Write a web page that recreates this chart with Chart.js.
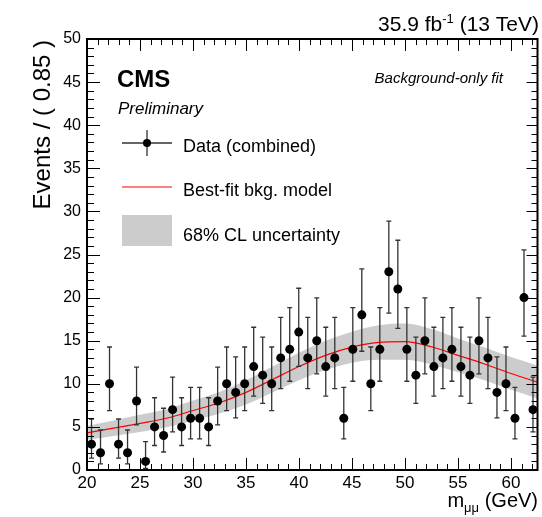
<!DOCTYPE html>
<html>
<head>
<meta charset="utf-8">
<script src="https://cdn.jsdelivr.net/npm/chart.js@4.4.1/dist/chart.umd.min.js"></script>
<style>
html,body{margin:0;padding:0;background:#fff;}
#wrap{width:542px;height:517px;position:relative;}
</style>
</head>
<body>
<div id="wrap"><canvas id="c" width="542" height="517"></canvas></div>
<script>
// ---- data ----
const binCenters = [20.425,21.275,22.125,22.975,23.825,24.675,25.525,26.375,27.225,28.075,
  28.925,29.775,30.625,31.475,32.325,33.175,34.025,34.875,35.725,36.575,
  37.425,38.275,39.125,39.975,40.825,41.675,42.525,43.375,44.225,45.075,
  45.925,46.775,47.625,48.475,49.325,50.175,51.025,51.875,52.725,53.575,
  54.425,55.275,56.125,56.975,57.825,58.675,59.525,60.375,61.225,62.075];
const counts = [3,2,10,3,2,8,1,5,4,7,
  5,6,6,5,8,10,9,10,12,11,
  10,13,14,16,13,15,12,13,6,14,
  18,10,14,23,21,14,11,15,12,13,
  14,12,11,15,13,9,10,6,20,7];
// Poisson (Garwood 68%) interval bounds indexed by count n
const poissonLow  = [0,0.173,0.708,1.367,2.086,2.840,3.620,4.419,5.232,6.057,6.891,7.733,8.581,9.436,10.295,11.160,12.028,12.901,13.776,14.655,15.537,16.421,17.307,18.196];
const poissonHigh = [1.841,3.300,4.638,5.918,7.163,8.382,9.584,10.771,11.946,13.113,14.270,15.420,16.563,17.701,18.833,19.961,21.085,22.205,23.322,24.435,25.546,26.653,27.758,28.861];

const fitX    = [20,22.5,25,27.5,30,32.5,35,37.5,40,42.5,45,47.5,50,52.5,55,57.5,60,62.5];
const fitY    = [4.3,4.85,5.4,6.0,6.9,7.8,9.0,10.5,12.0,13.3,14.25,14.8,14.9,14.3,13.3,12.3,11.2,10.2];
const bandLow = [3.5,3.95,4.4,4.95,5.75,6.55,7.6,9.0,10.4,11.6,12.45,12.8,12.8,12.25,11.35,10.4,9.3,8.3];
const bandHigh= [5.1,5.75,6.4,7.05,8.05,9.05,10.4,12.0,13.6,15.0,16.05,16.8,17.0,16.35,15.25,14.2,13.1,12.1];

const xTicks = [20,25,30,35,40,45,50,55,60];
const yTicks = [0,5,10,15,20,25,30,35,40,45,50];
const xMin = 20, xMax = 62.5, yMin = 0, yMax = 50;

const FONT = '"Liberation Sans", Arial, Helvetica, sans-serif';

const pts = (xs, ys) => xs.map((x, i) => ({x: x, y: ys[i]}));

// ---- plugins ----
const errorBars = {
  id: 'errorBars',
  beforeDatasetDraw(chart, args) {
    if (chart.data.datasets[args.index].label !== 'data') return;
    const {ctx, scales: {x, y}} = chart;
    ctx.save();
    ctx.strokeStyle = '#333';
    ctx.lineWidth = 1.3;
    binCenters.forEach((bc, i) => {
      const n = counts[i];
      const px = x.getPixelForValue(bc);
      const yl = y.getPixelForValue(poissonLow[n]);
      const yh = y.getPixelForValue(poissonHigh[n]);
      ctx.beginPath();
      ctx.moveTo(px, yl); ctx.lineTo(px, yh);
      ctx.moveTo(px - 2.5, yl); ctx.lineTo(px + 2.5, yl);
      ctx.moveTo(px - 2.5, yh); ctx.lineTo(px + 2.5, yh);
      ctx.stroke();
    });
    ctx.restore();
  }
};

const frameAndText = {
  id: 'frameAndText',
  afterDraw(chart) {
    const {ctx, chartArea: a, scales: {x, y}} = chart;
    ctx.save();
    // ticks (inward) on all four sides
    ctx.strokeStyle = '#000';
    ctx.lineWidth = 1;
    ctx.beginPath();
    for (let v = xMin; v <= xMax + 1e-9; v += 1) {
      const px = Math.round(x.getPixelForValue(v)) + 0.5;
      const major = Math.abs(v % 5) < 1e-9;
      const lb = major ? 12 : 6;
      const lt = major ? 12 : 6;
      ctx.moveTo(px, a.bottom); ctx.lineTo(px, a.bottom - lb);
      ctx.moveTo(px, a.top); ctx.lineTo(px, a.top + lt);
    }
    for (let v = yMin; v <= yMax + 1e-9; v += 1) {
      const py = Math.round(y.getPixelForValue(v)) + 0.5;
      const major = Math.abs(v % 5) < 1e-9;
      const ll = major ? 13 : 7;
      const lr = major ? 11 : 6;
      ctx.moveTo(a.left, py); ctx.lineTo(a.left + ll, py);
      ctx.moveTo(a.right, py); ctx.lineTo(a.right - lr, py);
    }
    ctx.stroke();
    // frame
    ctx.lineWidth = 2;
    ctx.strokeRect(a.left, a.top, a.right - a.left, a.bottom - a.top);

    ctx.fillStyle = '#000';
    // y axis title
    ctx.save();
    ctx.translate(43, a.top + 1);
    ctx.rotate(-Math.PI / 2);
    ctx.font = '24px ' + FONT;
    ctx.textAlign = 'right';
    ctx.textBaseline = 'middle';
    ctx.fillText('Events / ( 0.85 )', 0, 0);
    ctx.restore();

    // x axis title: m_{μμ} (GeV)
    ctx.textBaseline = 'alphabetic';
    ctx.font = '20px ' + FONT;
    ctx.textAlign = 'right';
    const gev = ' (GeV)';
    ctx.fillText(gev, 538, 507);
    let xr = 538 - ctx.measureText(gev).width;
    ctx.font = '13px ' + FONT;
    ctx.fillText('μμ', xr, 512);
    xr -= ctx.measureText('μμ').width;
    ctx.font = '20px ' + FONT;
    ctx.fillText('m', xr, 507);

    // lumi label
    ctx.font = '21px ' + FONT;
    const tail = ' (13 TeV)';
    ctx.fillText(tail, 539, 31);
    let tr = 539 - ctx.measureText(tail).width;
    ctx.font = '13px ' + FONT;
    ctx.fillText('-1', tr, 23);
    tr -= ctx.measureText('-1').width;
    ctx.font = '21px ' + FONT;
    ctx.fillText('35.9 fb', tr, 31);

    // CMS labels
    ctx.textAlign = 'left';
    ctx.font = 'bold 24px ' + FONT;
    ctx.fillText('CMS', 117, 87);
    ctx.font = 'italic 17px ' + FONT;
    ctx.fillText('Preliminary', 118, 114);
    ctx.textAlign = 'right';
    ctx.font = 'italic 15px ' + FONT;
    ctx.fillText('Background-only fit', 503, 83);

    // legend
    ctx.textAlign = 'left';
    // data entry
    ctx.strokeStyle = '#333';
    ctx.lineWidth = 1.3;
    ctx.beginPath();
    ctx.moveTo(122, 143); ctx.lineTo(172, 143);
    ctx.moveTo(147, 130); ctx.lineTo(147, 156);
    ctx.stroke();
    ctx.beginPath();
    ctx.arc(147, 143, 4, 0, Math.PI * 2);
    ctx.fillStyle = '#000';
    ctx.fill();
    // fit entry
    ctx.strokeStyle = '#ff0000';
    ctx.lineWidth = 1;
    ctx.beginPath();
    ctx.moveTo(122, 187); ctx.lineTo(172, 187);
    ctx.stroke();
    // band entry
    ctx.fillStyle = '#cccccc';
    ctx.fillRect(122, 215, 50, 31);

    ctx.fillStyle = '#000';
    ctx.font = '18px ' + FONT;
    ctx.fillText('Data (combined)', 183, 152);
    ctx.fillText('Best-fit bkg. model', 183, 196);
    ctx.fillText('68% CL uncertainty', 183, 241);
    ctx.restore();
  }
};

new Chart(document.getElementById('c'), {
  type: 'line',
  data: {
    datasets: [
      {label: 'bandHigh', data: pts(fitX, bandHigh), borderWidth: 0, pointRadius: 0,
       fill: '+1', backgroundColor: '#cccccc', cubicInterpolationMode: 'monotone', order: 3},
      {label: 'bandLow', data: pts(fitX, bandLow), borderWidth: 0, pointRadius: 0,
       fill: false, cubicInterpolationMode: 'monotone', order: 3},
      {label: 'fit', data: pts(fitX, fitY), borderColor: '#ff0000', borderWidth: 1.2,
       pointRadius: 0, fill: false, cubicInterpolationMode: 'monotone', order: 2},
      {label: 'data', data: pts(binCenters, counts), showLine: false,
       pointRadius: 4.5, pointBackgroundColor: '#000', pointBorderColor: '#000',
       pointBorderWidth: 0, order: 1}
    ]
  },
  options: {
    responsive: false,
    animation: false,
    events: [],
    layout: {padding: {top: 39, right: 3, left: 0, bottom: 0}},
    plugins: {legend: {display: false}, tooltip: {enabled: false}},
    scales: {
      x: {
        type: 'linear', min: xMin, max: xMax,
        afterBuildTicks: s => { s.ticks = xTicks.map(v => ({value: v})); },
        afterFit: s => { s.height = 47; },
        grid: {display: false, drawTicks: false},
        border: {display: false},
        ticks: {color: '#000', font: {family: FONT, size: 17}, padding: 3, maxRotation: 0, autoSkip: false}
      },
      y: {
        type: 'linear', min: yMin, max: yMax,
        afterBuildTicks: s => { s.ticks = yTicks.map(v => ({value: v})); },
        afterFit: s => { s.width = 87; },
        grid: {display: false, drawTicks: false},
        border: {display: false},
        ticks: {color: '#000', font: {family: FONT, size: 16}, padding: 6}
      }
    }
  },
  plugins: [errorBars, frameAndText]
});
</script>
</body>
</html>
